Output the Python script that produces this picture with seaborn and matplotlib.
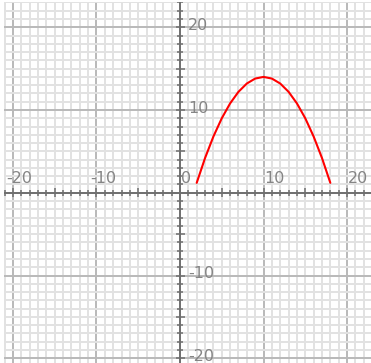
import numpy as np
import pandas as pd
import matplotlib
matplotlib.use("Agg")
import matplotlib.pyplot as plt
import seaborn as sns

# Points on the red curve
curve_x = [2, 3, 4, 5, 6, 7, 8, 9, 10, 11, 12, 13, 14, 15, 16, 17, 18]
curve_y = [1.2, 4.2, 6.8, 9.0, 10.8, 12.2, 13.2, 13.8, 14.0, 13.8, 13.2, 12.2, 10.8, 9.0, 6.8, 4.2, 1.2]

# Axis labels
x_labels = [-20, -10, 0, 10, 20]
y_labels = [20, 10, -10, -20]

x_range = (-21.1, 22.87)
y_range = (-20.57, 23.1)

sns.set_style("white")
plt.rcParams["font.family"] = ["DejaVu Sans"]

W, H, DPI = 371, 363, 100
fig = plt.figure(figsize=(W / DPI, H / DPI), dpi=DPI, facecolor="white")
ax = fig.add_axes([3.8 / W, 0, (W - 3.8) / W, (H - 1.6) / H])
ax.set_xlim(*x_range)
ax.set_ylim(*y_range)
for s in ax.spines.values():
    s.set_visible(False)

# Grid: every unit light, every ten darker
ax.set_xticks(np.arange(-21, 23), minor=True)
ax.set_yticks(np.arange(-20, 24), minor=True)
ax.set_xticks(np.arange(-20, 21, 10))
ax.set_yticks(np.arange(-20, 21, 10))
ax.tick_params(which="both", length=0, labelbottom=False, labelleft=False)
ax.grid(which="minor", color="#e2e2e2", linewidth=1.4, zorder=0)
ax.grid(which="major", color="#b9b9b9", linewidth=1.4, zorder=0.5)
ax.set_axisbelow(True)

# Coordinate axes
axis_col = "#6f6f6f"
ax.axhline(0, color=axis_col, linewidth=1.4, zorder=2)
ax.axvline(0, color=axis_col, linewidth=1.4, zorder=2)

px_x = (x_range[1] - x_range[0]) / (W - 3.8)
px_y = (y_range[1] - y_range[0]) / (H - 1.6)
xt = np.arange(-21, 23)
yt = np.arange(-20, 24)
xt = xt[xt != 0]
yt = yt[yt != 0]
xlen = np.where(xt % 5 == 0, 4.5, 3.0) * px_y
ylen = np.where(yt % 5 == 0, 4.5, 3.0) * px_x
ax.vlines(xt, -xlen, xlen, color=axis_col, linewidth=1.1, zorder=2)
ax.hlines(yt, -ylen, ylen, color=axis_col, linewidth=1.1, zorder=2)

# Tick labels
lab_col = "#858585"
fs = 11.5
for v in x_labels:
    dx = 1 if v >= 0 else -6.5
    ax.annotate(str(v), xy=(v, 0), xytext=(dx * 0.72, 10 * 0.72),
                textcoords="offset points", ha="left", va="baseline",
                color=lab_col, fontsize=fs, zorder=3)
for v in y_labels:
    ax.annotate(str(v), xy=(0, v), xytext=(8 * 0.72, -2.5 * 0.72),
                textcoords="offset points", ha="left", va="baseline",
                color=lab_col, fontsize=fs, zorder=3)

# Curve
df = pd.DataFrame({"x": curve_x, "y": curve_y})
sns.lineplot(data=df, x="x", y="y", color="#ff0000", linewidth=1.5,
             sort=False, ax=ax, zorder=4)
ax.set_xlabel("")
ax.set_ylabel("")

fig.savefig("out.png", dpi=DPI, facecolor="white")
